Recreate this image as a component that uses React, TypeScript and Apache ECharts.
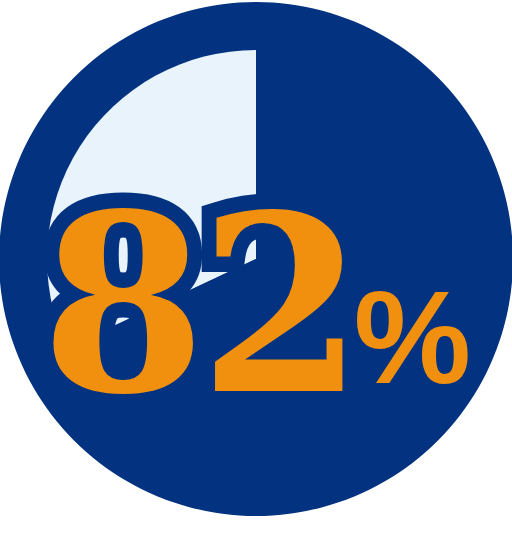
import React, { useEffect, useRef } from "react";
import * as echarts from "echarts";

const sliceNames = ["highlight", "rest"];
const sliceValues = [32, 68];
const digitLabels = ["8", "2"];
const unitLabel = "%";

const DARK = "#023280";
const LIGHT = "#E8F3FC";
const ORANGE = "#F0900E";

export default function App() {
  const ref = useRef<HTMLDivElement>(null);
  useEffect(() => {
    if (!ref.current) return;
    const chart = echarts.init(ref.current, null, { renderer: "svg" });
    const digitX = [123.5, 281.5];
    const digitFont = 'bold 246px "DejaVu Serif"';
    const outline: any[] = [];
    const fills: any[] = [];
    digitLabels.forEach((d, i) => {
      const base = {
        type: "text",
        x: digitX[i],
        y: 305,
        scaleX: 0.96,
        silent: true,
      };
      outline.push({
        ...base,
        z: 10,
        style: {
          text: d,
          font: digitFont,
          textAlign: "center",
          textVerticalAlign: "middle",
          fill: DARK,
          stroke: DARK,
          lineWidth: 31,
          lineJoin: "round",
        },
      });
      fills.push({
        ...base,
        z: 11,
        style: {
          text: d,
          font: digitFont,
          textAlign: "center",
          textVerticalAlign: "middle",
          fill: ORANGE,
        },
      });
    });
    chart.setOption({
      animation: false,
      series: [
        {
          type: "pie",
          center: [256, 259],
          radius: [0, 257],
          silent: true,
          label: { show: false },
          labelLine: { show: false },
          itemStyle: { color: DARK },
          data: [{ name: "disc", value: 1 }],
        },
        {
          type: "pie",
          center: [256, 259],
          radius: [0, 209],
          startAngle: 90,
          clockwise: false,
          silent: true,
          label: { show: false },
          labelLine: { show: false },
          data: sliceNames.map((n, i) => ({
            name: n,
            value: sliceValues[i],
            itemStyle: { color: i === 0 ? LIGHT : DARK },
          })),
        },
      ],
      graphic: [
        ...outline,
        ...fills,
        {
          type: "text",
          x: 412.5,
          y: 337,
          z: 11,
          silent: true,
          style: {
            text: unitLabel,
            font: 'bold 132px "Liberation Sans"',
            textAlign: "center",
            textVerticalAlign: "middle",
            fill: ORANGE,
          },
        },
      ],
    });
    return () => chart.dispose();
  }, []);
  return (
    <div
      ref={ref}
      style={{ position: "fixed", left: 0, top: 0, width: 512, height: 544, background: "#fff" }}
    />
  );
}
